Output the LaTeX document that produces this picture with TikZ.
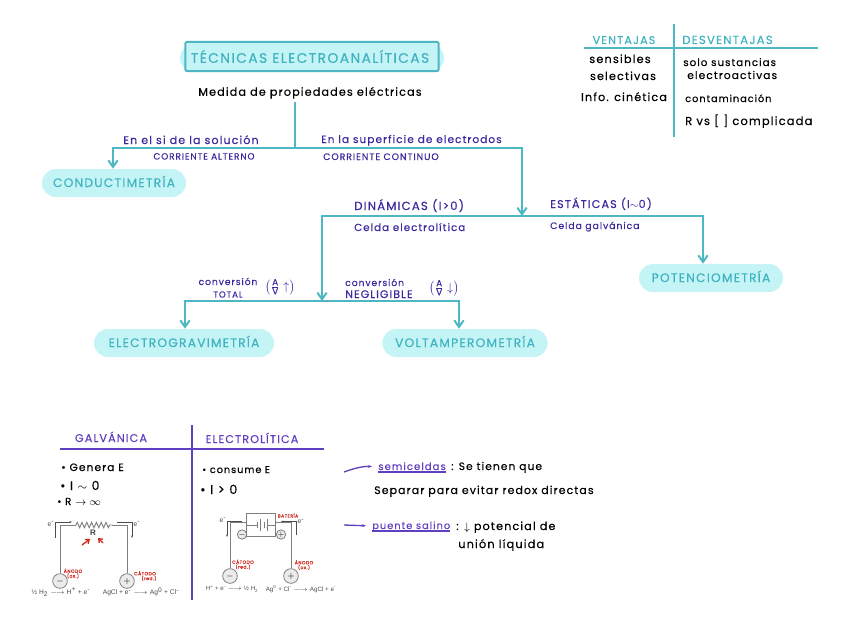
\documentclass[tikz,border=0pt]{standalone}
\usepackage{amsmath,amssymb}
\usepackage{fontspec}
\setmainfont{Poppins}[LetterSpace=10,FakeBold=0.3]
\newfontfamily\formfont{Liberation Sans}
\usetikzlibrary{arrows.meta, positioning, decorations.pathmorphing}
\definecolor{Teal}{HTML}{4DB8C4}
\definecolor{TealText}{HTML}{3FB3BF}
\definecolor{Pill}{HTML}{C5F4F6}
\definecolor{Indigo}{HTML}{3B2A9E}
\definecolor{Violet}{HTML}{6040C0}
\definecolor{Redmark}{HTML}{CC2A1E}
\definecolor{Wire}{HTML}{7F7F7F}
\tikzset{
  pillbox/.style={rectangle, rounded corners=10.5pt, fill=Pill, inner sep=0pt,
                   minimum height=21pt, text depth=2.5pt,
                   font=\fontsize{9.2}{9.2}\selectfont, text=TealText},
  hand/.style={inner sep=0pt, text height=6pt, text depth=1.5pt,
                   font=\fontsize{#1}{#1}\selectfont},
  hand/.default=8.2,
  tag/.style={hand=#1, text=Indigo},
  tag/.default=7.7,
  headtag/.style={hand=8.4, text=#1},
  redtag/.style={inner sep=0pt, font=\fontsize{3.4}{3.6}\selectfont, text=Redmark, align=center},
  formula/.style={inner sep=0pt, font=\formfont\fontsize{5}{5}\selectfont, text=black!70},
  flowarr/.style={-{Straight Barb[length=5pt,width=7pt]}, line width=1.5pt, color=Teal},
  flowline/.style={line width=1.5pt, color=Teal},
  wire/.style={line width=0.7pt, color=Wire},
  minorarr/.style={-{Stealth[length=2pt]}, line width=0.4pt, color=black!70},
  redarr/.style={-{Straight Barb[length=2.5pt,width=4pt]}, line width=1pt, color=Redmark},
  notearr/.style={-{Stealth[length=3pt]}, line width=1pt, color=Violet, shorten >=4.5pt},
  noteline/.style={color=Violet, line width=1.2pt, yshift=-2pt},
  ratio/.style={inner sep=0pt, text=Indigo, font=\fontsize{9.5}{9.5}\selectfont},
  pole/.style={circle, draw=Wire, fill=black!8, line width=0.6pt, minimum size=#1,
                inner sep=0pt, font=\formfont\fontsize{6}{6}\selectfont\bfseries},
  pole/.default=11pt,
}
\begin{document}
\begin{tikzpicture}[x=0.75pt, y=-0.75pt]
  \useasboundingbox (0,0) rectangle (848,635);
  % title
  \node[pillbox, minimum width=198pt] (titlepill) at (312,58) {};
  \node[rectangle, draw=Teal, fill=Pill, line width=1.5pt, rounded corners=1.5pt,
        minimum width=190pt, minimum height=22pt, font=\fontsize{10.4}{10.4}\selectfont, text=TealText] (titlebox) at (312,56.5) {TÉCNICAS ELECTROANALÍTICAS\hspace*{3pt}};
  \node[hand=8.4, below=11.5pt of titlebox, xshift=-1.5pt] (measure) {Medida de propiedades eléctricas};
  % tree
  \node[pillbox, minimum width=108pt] (cond) at (114,183) {CONDUCTIMETRÍA};
  \node[pillbox, minimum width=108pt] (poten) at (711,278) {POTENCIOMETRÍA};
  \node[pillbox, minimum width=135pt] (gravi) at (184,343) {ELECTROGRAVIMETRÍA};
  \node[pillbox, minimum width=124pt] (volta) at (465,343) {VOLTAMPEROMETRÍA};
  \coordinate (top) at (295,102);
  \coordinate (split) at (295,148);
  \coordinate (dyn) at (522,216);
  \coordinate (stat) at (522,216);
  \coordinate (low) at (322,301);
  \draw[flowline] (top) -- (split);
  \draw[flowarr] (split) -| (cond.north -| 113,170);
  \draw[flowarr] (split) -| (dyn);
  \draw[flowarr] (stat) -| (poten.north -| 703,263);
  \draw[flowarr] (stat) -| (low);
  \draw[flowarr] (low) -| (gravi.north -| 185,329);
  \draw[flowarr] (low) -| (volta.north -| 459,329);
  % labels of the tree
  \node[tag=8.3] (surfl) at (191,141) {En el si de la solución};
  \node[tag=6.7] (altern) at (204,156.5) {CORRIENTE ALTERNO};
  \node[tag=7.9, anchor=west] (surfr) at (321,140) {En la superficie de electrodos};
  \node[tag=7, anchor=west] (contin) at (323,157) {CORRIENTE CONTINUO};
  \node[tag=8.8, anchor=west] (dina) at (354,207) {DINÁMICAS (I>0)};
  \node[tag, anchor=west] (elcell) at (354,228) {Celda electrolítica};
  \node[tag=8.4, anchor=west] (esta) at (550,205) {ESTÁTICAS (I$\sim$0)};
  \node[tag=7, anchor=west] (gacell) at (550,226) {Celda galvánica};
  \node[tag=6.9] (totala) at (228,282) {conversión};
  \node[tag=6.5, below=1.5pt of totala] (totalb) {TOTAL};
  \node[ratio] (ratioup) at (280,287) {$\left(\frac{\mathrm{A}}{\mathrm{V}}\uparrow\right)$};
  \node[tag=6.9, anchor=west] (neglia) at (345,283) {conversión};
  \node[tag=8.2, anchor=west] (neglib) at (345,295) {NEGLIGIBLE};
  \node[ratio] (ratiodown) at (444,288) {$\left(\frac{\mathrm{A}}{\mathrm{V}}\downarrow\right)$};
  % top table
  \coordinate (tabl) at (584,48);
  \coordinate (tabr) at (818,48);
  \coordinate (tabt) at (674,24);
  \coordinate (tabb) at (674,137);
  \draw[flowline, line width=1.2pt] (tabl) -- (tabr);
  \draw[flowline, line width=1.2pt] (tabt) -- (tabb);
  \node[headtag=TealText] (vent) at (624,41) {VENTAJAS};
  \node[headtag=TealText, hand=8.8, anchor=west] (desv) at (682,41) {DESVENTAJAS};
  \node[hand=8.5] (senb) at (620,60) {sensibles};
  \node[hand=8.4] (sele) at (623,77) {selectivas};
  \node[hand=8.4] (info) at (624,98) {Info. cinética};
  \node[hand=7.7, anchor=west] (solo) at (683,63) {solo sustancias};
  \node[hand=8, anchor=west] (elac) at (687,76) {electroactivas};
  \node[hand=7.3, anchor=west] (cont) at (685,99) {contaminación};
  \node[hand=8.6, anchor=west] (rvs) at (685,122) {R vs [ ] complicada};
  % lower table
  \coordinate (cell-l) at (60,449);
  \coordinate (cell-r) at (324,449);
  \coordinate (cell-t) at (192,425);
  \coordinate (cell-b) at (192,600);
  \draw[line width=1.2pt, color=Violet] (cell-l) -- (cell-r);
  \draw[line width=1.2pt, color=Violet] (cell-t) -- (cell-b);
  \node[headtag=Violet] (galv) at (111,439) {GALVÁNICA};
  \node[headtag=Violet] (elec) at (252,440) {ELECTROLÍTICA};
  \node[hand=8, anchor=west] (ga) at (61,468) {• Genera E};
  \node[hand=9.3, anchor=west] (gb) at (60,487) {• I $\sim$ 0};
  \node[hand=7.6, anchor=west] (gc) at (57,502) {• R $\rightarrow\infty$};
  \node[hand=7.3, anchor=west] (ea) at (202,470) {• consume E};
  \node[hand=9.5, anchor=west] (eb) at (200,491) {• I > 0};
  % notes
  \node[hand=7.6, text=Violet, anchor=west] (semi) at (378,467) {semiceldas};
  \node[hand=8, anchor=west] (semic) at (451,467) {: Se tienen que};
  \node[hand=8.2, anchor=west] (semid) at (374,491) {Separar para evitar redox directas};
  \node[hand=7.4, text=Violet, anchor=west] (salt) at (372,526) {puente salino};
  \node[hand=8.4, anchor=west] (saltc) at (456,527) {: $\downarrow$ potencial de};
  \node[hand=8.5, anchor=west] (saltd) at (458,545) {unión líquida};
  \coordinate (semistart) at (344,472);
  \coordinate (saltstart) at (344,525);
  \draw[notearr] (semistart) to[bend left=12] (semi.west);
  \draw[notearr] (saltstart) -- (salt.west);
  \draw[noteline] (semi.south west) -- (semi.south east);
  \draw[noteline] (salt.south west) -- (salt.south east);
  % galvanic cell
  \node[pole] (anL) at (60,581) {$-$};
  \node[pole] (caL) at (127,581) {$+$};
  \coordinate (resL) at (76,525);
  \coordinate (resR) at (112,525);
  \draw[wire] (anL) |- (resL);
  \draw[wire, decorate, decoration={zigzag, amplitude=2pt, segment length=3.6pt}] (resL) -- (resR);
  \draw[wire] (resR) -| (caL);
  \node[inner sep=0pt, font=\formfont\fontsize{6}{6}\selectfont\bfseries, text=black!75] (resname) at (93,533) {R};
  \node[formula] (eL) at (51,524) {e\textsuperscript{-}};
  \node[formula] (eR) at (137,524) {e\textsuperscript{-}};
  \coordinate (fla) at (55,538);
  \coordinate (flb) at (55,522);
  \coordinate (flc) at (72,522);
  \coordinate (fra) at (117,522);
  \coordinate (frb) at (132,522);
  \coordinate (frc) at (132,538);
  \draw[minorarr] (fla) -- (flb) -- (flc);
  \draw[minorarr] (fra) -- (frb) -- (frc);
  \coordinate (rala) at (82,545);
  \coordinate (ralb) at (90,539);
  \coordinate (rara) at (103,543);
  \coordinate (rarb) at (98,538);
  \draw[redarr] (rala) -- (ralb);
  \draw[redarr] (rara) -- (rarb);
  \node[redtag] (anLtag) at (73,573.5) {ÁNODO\\(ox.)};
  \node[redtag] (caLtag) at (145,576) {CÁTODO\\\hspace*{6pt}(red.)};
  \node[formula] (foga) at (61,592) {½ H\textsubscript{2} $\longrightarrow$ H\textsuperscript{+} + e\textsuperscript{-}};
  \node[formula] (fogb) at (141,592) {AgCl + e\textsuperscript{-} $\longrightarrow$ Ag\textsuperscript{0} + Cl\textsuperscript{-}};
  % electrolytic cell
  \node[draw=Wire, fill=white, line width=0.7pt, inner sep=0pt, minimum width=21.75pt, minimum height=17pt] (bat) at (261,525) {};
  \node[pole] (caR) at (230,576) {$-$};
  \node[pole] (anR) at (291,576) {$+$};
  \coordinate (batl) at (246.5,522);
  \coordinate (batr) at (276,522);
  \draw[wire] (caR) |- (batl);
  \draw[wire] (anR) |- (batr);
  \node[pole=7pt, font=\formfont\fontsize{4}{4}\selectfont\bfseries] (batm) at (242,534.5) {$-$};
  \node[pole=7pt, font=\formfont\fontsize{4}{4}\selectfont\bfseries] (batp) at (281,534.5) {$+$};
  \coordinate (bl) at (247,525);
  \coordinate (ba) at (257,525);
  \coordinate (bb) at (268,525);
  \coordinate (br) at (275.5,525);
  \draw[wire, line width=0.4pt] (bl) -- (ba);
  \draw[wire, line width=0.4pt] (bb) -- (br);
  \foreach \xa/\ya in {257/3, 260/6, 264/3, 267.5/6}
    \draw[wire, line width=0.4pt] (\xa,525-\ya) -- (\xa,525+\ya);
  \node[formula] (eRa) at (223,520) {e\textsuperscript{-}};
  \node[formula] (eRb) at (301,521.5) {e\textsuperscript{-}};
  \coordinate (rla) at (242,521);
  \coordinate (rlb) at (227,521);
  \coordinate (rlc) at (227,537);
  \coordinate (rra) at (296.5,535);
  \coordinate (rrb) at (296.5,521.5);
  \coordinate (rrc) at (281,521.5);
  \draw[minorarr] (rla) -- (rlb) -- (rlc);
  \draw[minorarr] (rra) -- (rrb) -- (rrc);
  \node[redtag] (battag) at (288,515.5) {BATERÍA};
  \node[redtag] (caRtag) at (243,564.5) {CÁTODO\\(red.)};
  \node[redtag] (anRtag) at (304,565) {ÁNODO\\(ox.)};
  \node[formula, font=\formfont\fontsize{4.6}{4.6}\selectfont] (foea) at (232,589) {H\textsuperscript{+} + e\textsuperscript{-} $\longrightarrow$ ½ H\textsubscript{2}};
  \node[formula, font=\formfont\fontsize{4.7}{4.7}\selectfont] (foeb) at (301,589) {Ag\textsuperscript{0} + Cl\textsuperscript{-} $\longrightarrow$ AgCl + e\textsuperscript{-}};
\end{tikzpicture}
\end{document}
